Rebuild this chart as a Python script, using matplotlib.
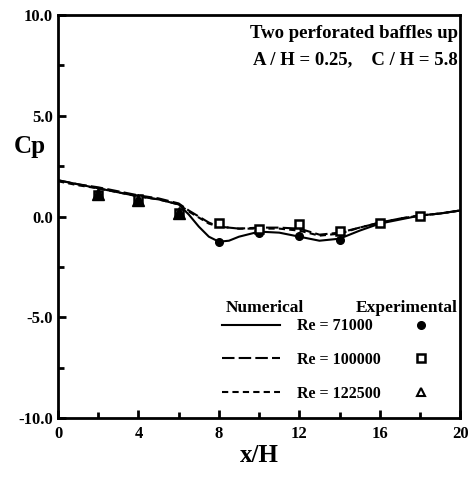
import matplotlib
matplotlib.use('Agg')
import matplotlib.pyplot as plt
from matplotlib.lines import Line2D
from matplotlib.ticker import MultipleLocator

'''DATA'''
xNum = [0, 1, 2, 3, 4, 5, 6, 6.5, 7, 7.5, 8, 8.5, 9, 10, 11, 12, 13, 14, 15, 16, 17, 18, 19, 20]
num71 = [1.8, 1.6, 1.4, 1.2, 1.0, 0.85, 0.6, 0.1, -0.5, -1.0, -1.25, -1.2, -1.0, -0.75, -0.8, -1.0,
         -1.2, -1.1, -0.7, -0.35, -0.15, 0.05, 0.15, 0.3]
num100 = [1.8, 1.6, 1.45, 1.25, 1.05, 0.9, 0.65, 0.3, 0.0, -0.3, -0.5, -0.55, -0.6, -0.55, -0.55, -0.6,
          -0.9, -0.8, -0.55, -0.3, -0.1, 0.05, 0.15, 0.3]
num122 = [1.75, 1.55, 1.4, 1.2, 1.0, 0.85, 0.6, 0.25, -0.05, -0.35, -0.5, -0.55, -0.6, -0.6, -0.6, -0.7,
          -0.95, -0.85, -0.55, -0.3, -0.1, 0.05, 0.15, 0.3]

xExp = [2, 4, 6, 8, 10, 12, 14, 16, 18]
exp71 = [1.0, 0.8, 0.15, -1.25, -0.8, -0.95, -1.15, -0.3, 0.05]
exp100 = [1.05, 0.85, 0.2, -0.3, -0.6, -0.35, -0.7, -0.3, 0.05]
exp122 = [1.1, 0.8, 0.2, -0.2, -0.55, -0.4, -0.65, -0.3, 0.05]

reLabels = ['Re = 71000', 'Re = 100000', 'Re = 122500']

'''Plot'''
plt.rcParams['font.family'] = 'Liberation Serif'
plt.rcParams['font.weight'] = 'bold'

fig = plt.figure(figsize=(4.72, 4.78), dpi=100)
ax = fig.add_axes([0.123, 0.1255, 0.852, 0.843])

l1, = ax.plot(xNum, num71, color='black', linewidth=1.5, linestyle='-')
l2, = ax.plot(xNum, num100, color='black', linewidth=1.5, linestyle=(0, (6, 2)))
l3, = ax.plot(xNum, num122, color='black', linewidth=1.5, linestyle=(0, (3, 2)))

m1, = ax.plot(xExp, exp71, 'o', color='black', markersize=5.5, linestyle='none')
m2, = ax.plot(xExp, exp100, 's', markerfacecolor='white', markeredgecolor='black',
              markeredgewidth=1.8, markersize=5.5, linestyle='none')
m3, = ax.plot(xExp[:3], exp122[:3], '^', color='black', markersize=8, linestyle='none')
m3leg = Line2D([], [], marker='^', markerfacecolor='white', markeredgecolor='black',
               markeredgewidth=1.5, markersize=6, linestyle='none')

ax.set_xlim(0, 20)
ax.set_ylim(-10, 10)
ax.xaxis.set_major_locator(MultipleLocator(4))
ax.xaxis.set_minor_locator(MultipleLocator(2))
ax.yaxis.set_major_locator(MultipleLocator(5))
ax.yaxis.set_minor_locator(MultipleLocator(2.5))
ax.set_yticks([-10, -5, 0, 5, 10])
ax.set_yticklabels(['-10.0', '-5.0', '0.0', '5.0', '10.0'])
ax.tick_params(which='both', direction='in', labelsize=12, width=2)
ax.tick_params(which='major', length=6)
ax.tick_params(which='minor', length=4)
ax.tick_params(axis='x', pad=6)
for s in ax.spines.values():
    s.set_linewidth(2)

ax.set_xlabel('x/H', fontsize=18, fontweight='bold', labelpad=1)
ax.set_ylabel('Cp', fontsize=18, fontweight='bold', rotation=0, labelpad=6)
ax.yaxis.set_label_coords(-0.07, 0.645)

ax.text(0.995, 0.955, 'Two perforated baffles up', transform=ax.transAxes,
        ha='right', va='center', fontsize=13.5)
ax.text(0.995, 0.89, 'A / H = 0.25,    C / H = 5.8', transform=ax.transAxes,
        ha='right', va='center', fontsize=13.5)

ax.text(0.515, 0.273, 'Numerical', transform=ax.transAxes, ha='center', va='center', fontsize=12.5)
ax.text(0.866, 0.273, 'Experimental', transform=ax.transAxes, ha='center', va='center', fontsize=12.5)

leg1 = ax.legend([l1, l2, l3], reLabels, loc='upper left', bbox_to_anchor=(0.393, 0.263),
                 frameon=False, fontsize=11.5, handlelength=3.6, handletextpad=1.05,
                 labelspacing=1.1, borderaxespad=0)
ax.add_artist(leg1)
ax.legend([m1, m2, m3leg], ['', '', ''], loc='upper left', bbox_to_anchor=(0.866, 0.263),
          frameon=False, fontsize=11.5, handlelength=1, handletextpad=0,
          labelspacing=1.1, borderaxespad=0)

fig.savefig('out.png', dpi=100)
